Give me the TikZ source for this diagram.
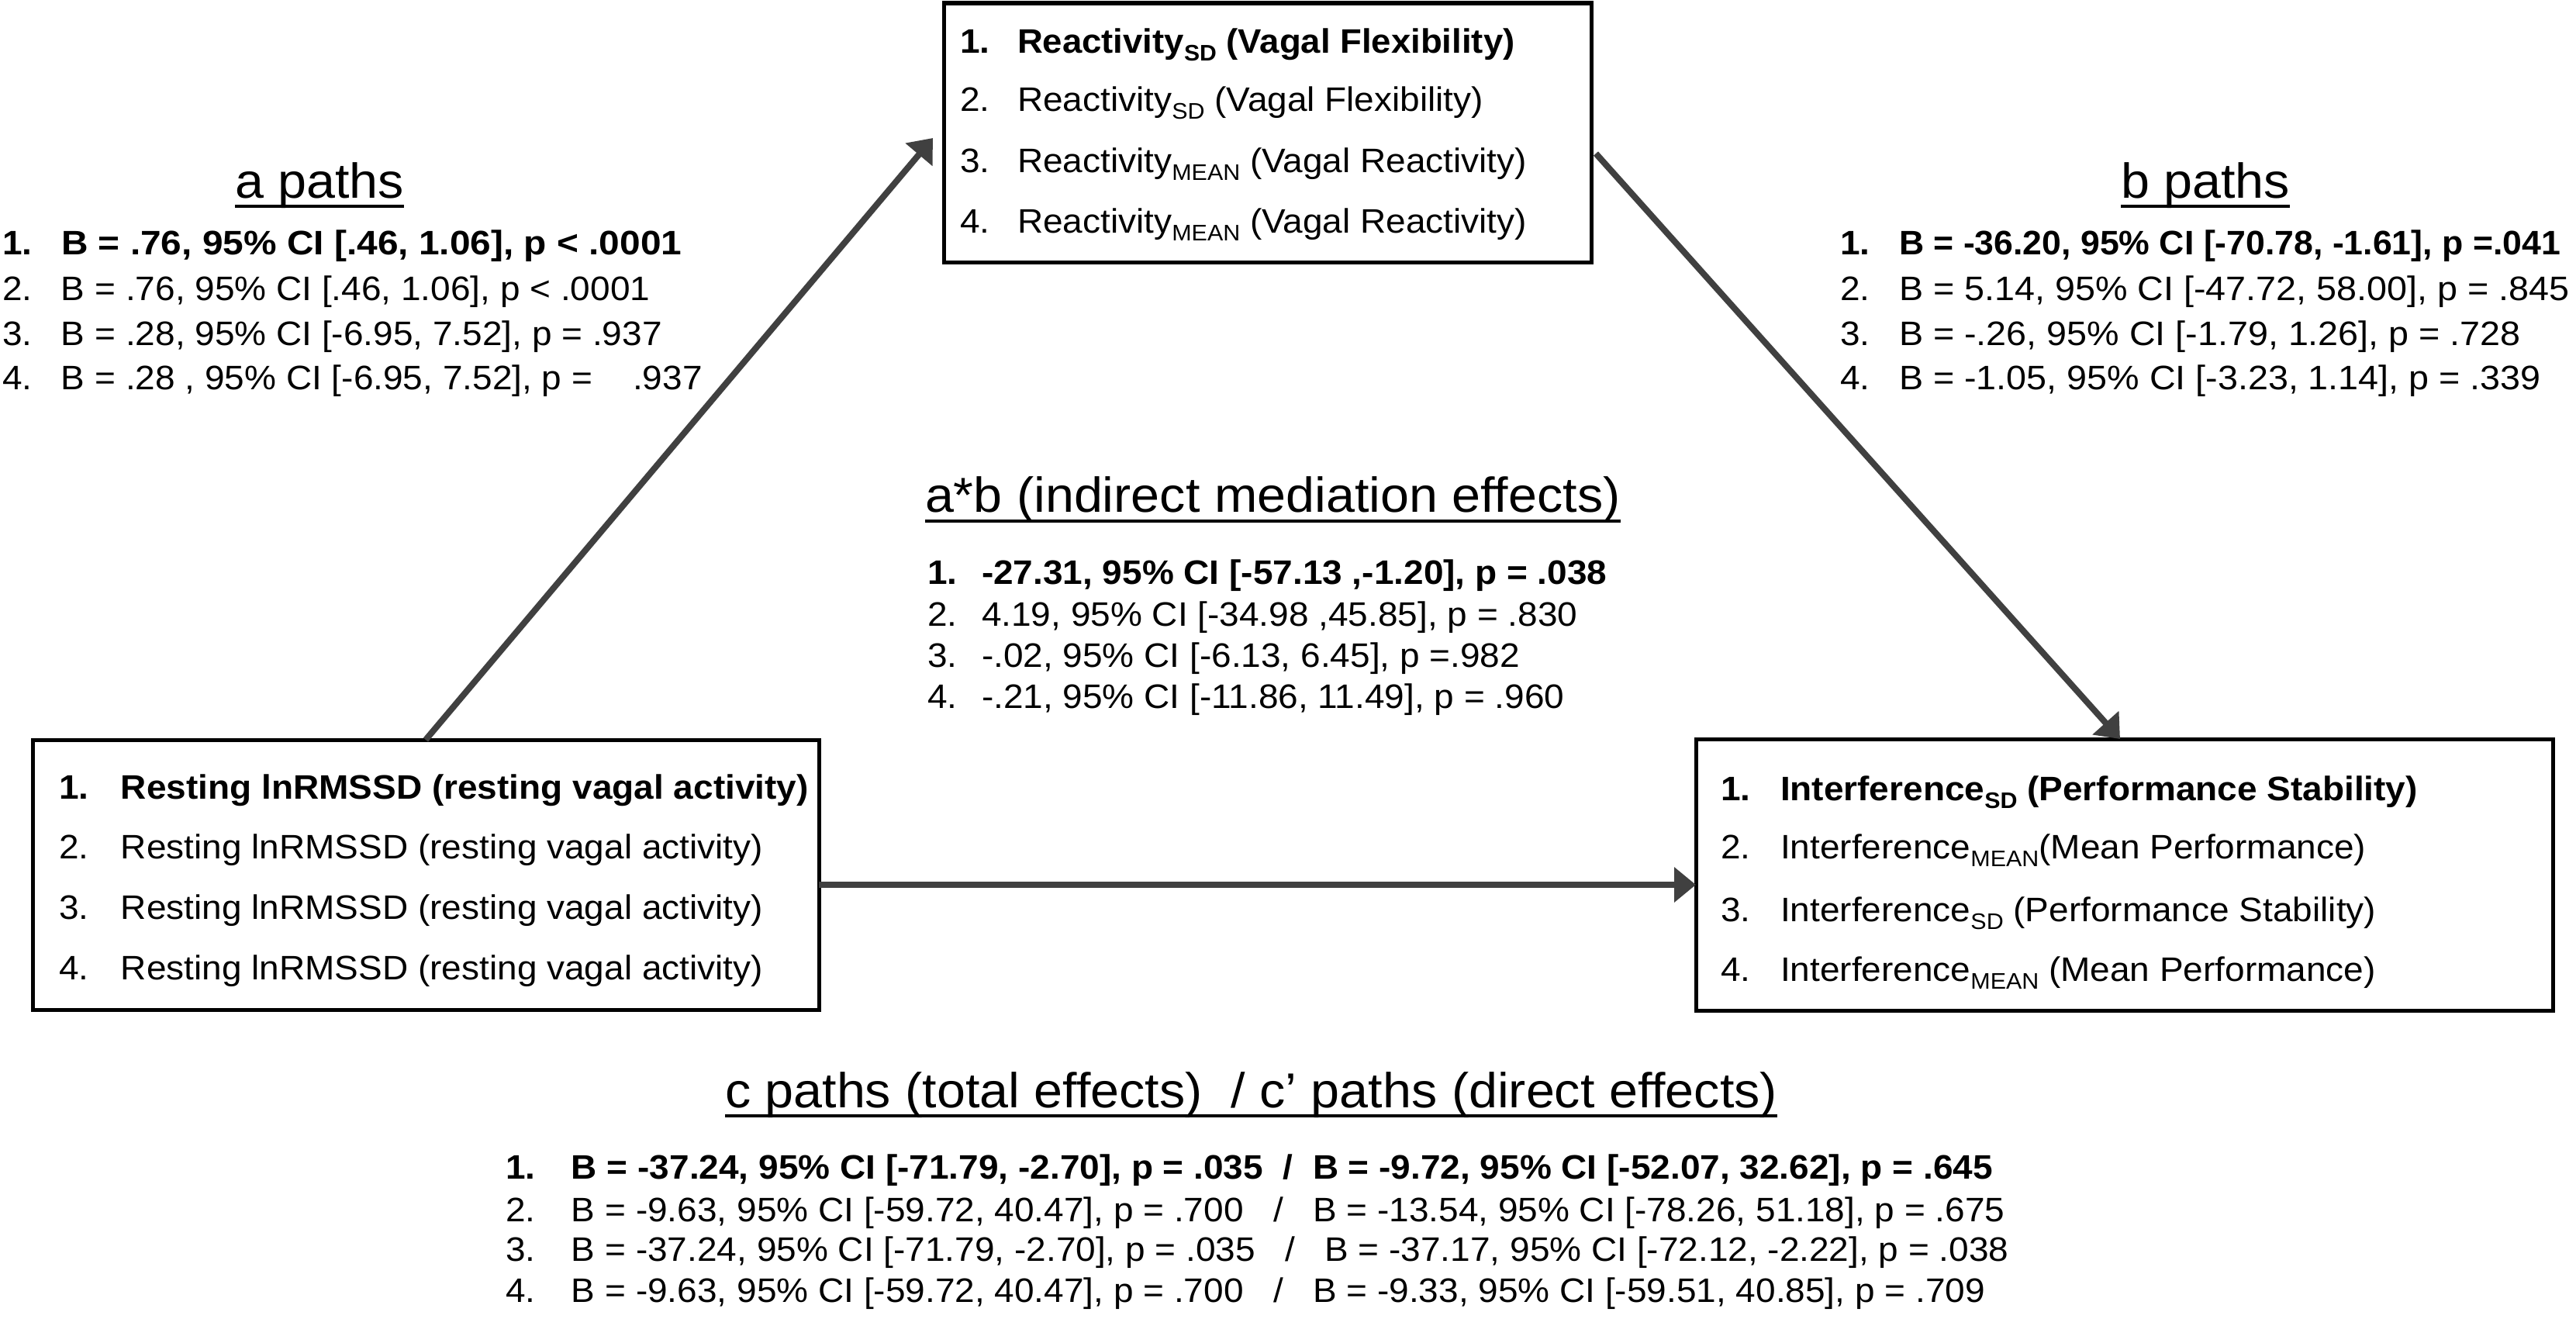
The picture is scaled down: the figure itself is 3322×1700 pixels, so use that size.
\documentclass[tikz,border=0pt]{standalone}
\usepackage{fontspec}
\setmainfont{Liberation Sans}[FakeStretch=1.05]
\usetikzlibrary{arrows.meta,calc}
\definecolor{arrgray}{HTML}{404040}
\newcommand\itemfont{\fontsize{43.8bp}{52bp}\selectfont}
\newcommand\titlefont{\fontsize{63.3bp}{72bp}\selectfont}
\newcommand\sbs[1]{\raisebox{-10bp}{\fontsize{29bp}{29bp}\selectfont #1}}
\newcommand\nb[2][75bp]{\makebox[#1][l]{#2}}
\newcommand\hsc[2]{\scalebox{#1}[1]{#2}}
\tikzset{
  box/.style={draw=black, line width=5bp, rectangle, inner sep=0pt, outer sep=0pt, anchor=north west},
  txt/.style={anchor=base west, inner sep=0pt, outer sep=0pt, font=\itemfont},
  ttl/.style={anchor=base west, inner sep=0pt, outer sep=0pt, font=\titlefont},
  uline/.style={draw=black, line width=4bp},
  arr/.style={draw=arrgray, line width=8bp, -{Triangle[length=28bp,width=44bp]}},
}
\begin{document}
\begin{tikzpicture}[x=1bp,y=-1bp]
\useasboundingbox (0,0) rectangle (3322,1700);
% boxes
\node[box, minimum width=835bp, minimum height=334bp] (med) at (1217,4) {};
\node[box, minimum width=1014bp, minimum height=348bp] (pred) at (42,954) {};
\node[box, minimum width=1105bp, minimum height=350bp] (out) at (2187,953) {};
% mediator text
\node[txt] (m1) at (1238,68) {\bfseries\nb[74bp]{1.}\hsc{0.99}{Reactivity\sbs{SD} (Vagal Flexibility)}};
\node[txt] (m2) at (1238,143) {\nb[74bp]{2.}Reactivity\sbs{SD} (Vagal Flexibility)};
\node[txt] (m3) at (1238,222) {\nb[74bp]{3.}Reactivity\sbs{MEAN} (Vagal Reactivity)};
\node[txt] (m4) at (1238,300) {\nb[74bp]{4.}Reactivity\sbs{MEAN} (Vagal Reactivity)};
% predictor text
\node[txt] (p1) at (76,1030) {\bfseries\nb[80bp]{1.}Resting lnRMSSD (resting vagal activity)};
\node[txt] (p2) at (76,1107) {\nb[80bp]{2.}Resting lnRMSSD (resting vagal activity)};
\node[txt] (p3) at (76,1185) {\nb[80bp]{3.}Resting lnRMSSD (resting vagal activity)};
\node[txt] (p4) at (76,1263) {\nb[80bp]{4.}Resting lnRMSSD (resting vagal activity)};
% outcome text
\node[txt] (o1) at (2219,1032) {\bfseries\nb[77bp]{1.}Interference\sbs{SD} (Performance Stability)};
\node[txt] (o2) at (2219,1107) {\nb[77bp]{2.}Interference\sbs{MEAN}(Mean Performance)};
\node[txt] (o3) at (2219,1188) {\nb[77bp]{3.}Interference\sbs{SD} (Performance Stability)};
\node[txt] (o4) at (2219,1265) {\nb[77bp]{4.}Interference\sbs{MEAN} (Mean Performance)};
% a paths
\node[ttl] (at) at (303,255) {a paths};
\draw[uline] ($(at.base west)+(0,11)$) -- ($(at.base east)+(0,11)$);
\node[txt] (a1) at (3,328) {\bfseries\nb[76bp]{1.}\hsc{1.04}{B = .76, 95\% CI [.46, 1.06], p < .0001}};
\node[txt] (a2) at (3,387) {\nb[76bp]{2.}B = .76, 95\% CI [.46, 1.06], p < .0001};
\node[txt] (a3) at (3,445) {\nb[76bp]{3.}B = .28, 95\% CI [-6.95, 7.52], p = .937};
\node[txt] (a4) at (3,502) {\nb[76bp]{4.}B = .28 , 95\% CI [-6.95, 7.52], p =\hspace{52bp}.937};
% b paths
\node[ttl] (bt) at (2735,255) {b paths};
\draw[uline] ($(bt.base west)+(0,11)$) -- ($(bt.base east)+(0,11)$);
\node[txt] (b1) at (2373,328) {\bfseries\nb[76bp]{1.}\hsc{0.97}{B = -36.20, 95\% CI [-70.78, -1.61], p =.041}};
\node[txt] (b2) at (2373,387) {\nb[76bp]{2.}\hsc{1.015}{B = 5.14, 95\% CI [-47.72, 58.00], p = .845}};
\node[txt] (b3) at (2373,445) {\nb[76bp]{3.}\hsc{1.015}{B = -.26, 95\% CI [-1.79, 1.26], p = .728}};
\node[txt] (b4) at (2373,502) {\nb[76bp]{4.}\hsc{1.015}{B = -1.05, 95\% CI [-3.23, 1.14], p = .339}};
% indirect
\node[ttl] (abt) at (1193,660) {a*b (indirect mediation effects)};
\draw[uline] ($(abt.base west)+(0,12)$) -- ($(abt.base east)+(0,12)$);
\node[txt] (ab1) at (1196,753) {\bfseries\nb[70bp]{1.}-27.31, 95\% CI [-57.13 ,-1.20], p = .038};
\node[txt] (ab2) at (1196,807) {\nb[70bp]{2.}4.19, 95\% CI [-34.98 ,45.85], p = .830};
\node[txt] (ab3) at (1196,860) {\nb[70bp]{3.}-.02, 95\% CI [-6.13, 6.45], p =.982};
\node[txt] (ab4) at (1196,913) {\nb[70bp]{4.}-.21, 95\% CI [-11.86, 11.49], p = .960};
% c paths
\node[ttl] (ct) at (935,1428) {c paths (total effects)\ \ / c’ paths (direct effects)};
\draw[uline] ($(ct.base west)+(0,11)$) -- ($(ct.base east)+(0,11)$);
\node[txt] (c1) at (652,1520) {\bfseries\nb[85bp]{1.}B = -37.24, 95\% CI [-71.79, -2.70], p = .035\ \ /\ \ B = -9.72, 95\% CI [-52.07, 32.62], p = .645};
\node[txt] (c2) at (652,1575) {\nb[85bp]{2.}B = -9.63, 95\% CI [-59.72, 40.47], p = .700\ \ \ /\ \ \ B = -13.54, 95\% CI [-78.26, 51.18], p = .675};
\node[txt] (c3) at (652,1626) {\nb[85bp]{3.}B = -37.24, 95\% CI [-71.79, -2.70], p = .035\ \ \ /\ \ \ B = -37.17, 95\% CI [-72.12, -2.22], p = .038};
\node[txt] (c4) at (652,1679) {\nb[85bp]{4.}B = -9.63, 95\% CI [-59.72, 40.47], p = .700\ \ \ /\ \ \ B = -9.33, 95\% CI [-59.51, 40.85], p = .709};
% connectors
\coordinate (aS) at ($(pred.north west)+(507,0)$);
\coordinate (aE) at ($(med.south west)+(-14,-160)$);
\coordinate (bS) at ($(med.north east)+(6,194)$);
\coordinate (bE) at ($(out.north west)+(547,0)$);
\coordinate (cS) at ($(pred.north east)+(0,187)$);
\coordinate (cE) at ($(out.north west)+(0,188)$);
\draw[arr] (aS) -- (aE);
\draw[arr] (bS) -- (bE);
\draw[arr] (cS) -- (cE);
\end{tikzpicture}
\end{document}
